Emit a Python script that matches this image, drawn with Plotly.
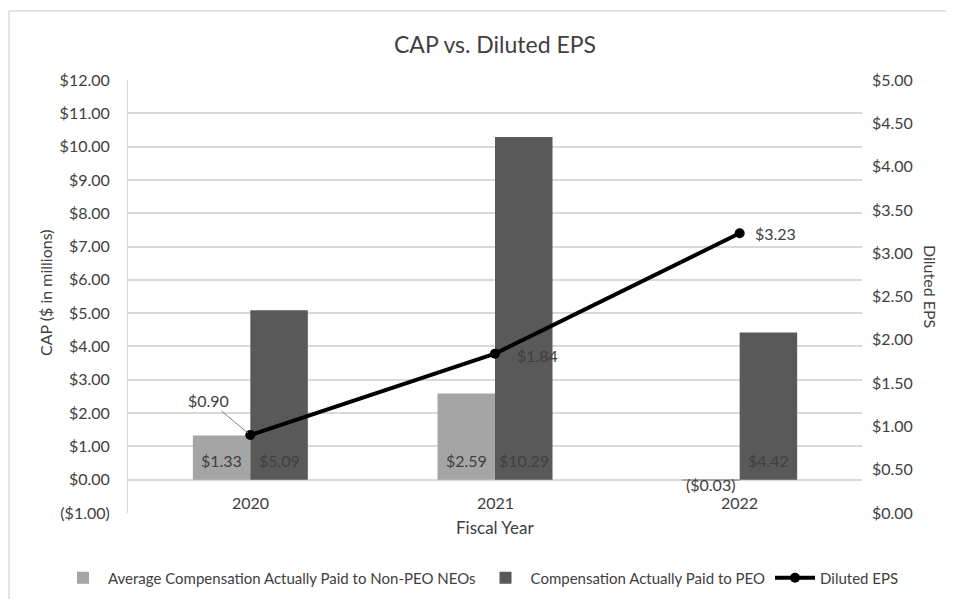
import plotly.graph_objects as go

years = ["2020", "2021", "2022"]
non_peo = [1.33, 2.59, -0.03]
peo = [5.09, 10.29, 4.42]
eps = [0.90, 1.84, 3.23]

left_ticks = list(range(-1, 13))
left_text = [("($%.2f)" % abs(v)) if v < 0 else ("$%.2f" % v) for v in left_ticks]
right_ticks = [i * 0.5 for i in range(11)]
right_text = ["$%.2f" % v for v in right_ticks]

def money(v):
    return ("($%.2f)" % abs(v)) if v < 0 else ("$%.2f" % v)

FONT = "Lato, Liberation Sans, sans-serif"
TXT = "#404040"

OFF = 8  # page body margin
W, H = 954 - OFF, 599 - OFF
SL, SR, ST, SB = 128, 862, 80, 513
L, R, T, B = SL - OFF, SR - OFF, ST - OFF, SB - OFF
pw, ph = R - L, B - T

def px(sx):
    return (sx - OFF - L) / pw

def py(sy):
    return (B - (sy - OFF)) / ph

BARGAP = 0.53
bar_w_px = pw / len(years) * (1 - BARGAP) / 2

fig = go.Figure()
fig.add_trace(go.Bar(
    x=years, y=non_peo, name="Average Compensation Actually Paid to Non-PEO NEOs",
    marker=dict(color="#A5A5A5", line=dict(width=0)),
))
fig.add_trace(go.Bar(
    x=years, y=peo, name="Compensation Actually Paid to PEO",
    marker=dict(color="#595959", line=dict(width=0)),
))
fig.add_trace(go.Scatter(
    x=years, y=eps, name="Diluted EPS", yaxis="y2",
    mode="lines+markers",
    line=dict(color="black", width=4),
    marker=dict(color="black", size=10),
    cliponaxis=False,
))

annotations = []
for series, shift in ((non_peo, -1), (peo, 1)):
    for i, v in enumerate(series):
        annotations.append(dict(
            x=i, y=(0 if v >= 0 else v), xref="x", yref="y", text=money(v), showarrow=False,
            xshift=shift * bar_w_px / 2, yanchor="middle", yshift=(19 if v >= 0 else -4),
            font=dict(color=TXT, size=16, family=FONT),
        ))
# EPS labels
annotations.append(dict(
    x=0, y=eps[0], xref="x", yref="y2", text=money(eps[0]),
    showarrow=True, arrowhead=0, arrowwidth=1, arrowcolor="#7f7f7f",
    ax=-42, ay=-35, font=dict(color=TXT, size=16, family=FONT), standoff=3,
))
for i, v in enumerate(eps):
    if i == 0:
        continue
    annotations.append(dict(
        x=i, y=v, xref="x", yref="y2", text=money(v), showarrow=False,
        xanchor="left", yanchor="middle", xshift=(20 if i == 1 else 13), yshift=(-2 if i == 1 else 0),
        font=dict(color=TXT, size=16, family=FONT),
    ))
for i, yr in enumerate(years):
    annotations.append(dict(
        x=i, y=0, xref="x", yref="y", text=yr, showarrow=False,
        yanchor="top", yshift=-11, font=dict(color=TXT, size=16, family=FONT),
    ))
annotations.append(dict(
    x=0.5, y=py(527), xref="paper", yref="paper", text="Fiscal Year",
    showarrow=False, yanchor="middle", font=dict(color=TXT, size=17, family=FONT),
))
annotations.append(dict(
    x=px(45), y=py(293), xref="paper", yref="paper", text="CAP ($ in millions)",
    showarrow=False, textangle=-90, xanchor="center", yanchor="middle",
    font=dict(color=TXT, size=16, family=FONT),
))
annotations.append(dict(
    x=px(931), y=py(287), xref="paper", yref="paper", text="Diluted EPS",
    showarrow=False, textangle=90, xanchor="center", yanchor="middle",
    font=dict(color=TXT, size=16, family=FONT),
))

BORDER = dict(color="#d9d9d9", width=1.5)
shapes = [
    dict(type="line", xref="paper", yref="paper", x0=px(9), x1=px(9), y0=py(11), y1=py(640),
         line=BORDER, layer="below"),
    dict(type="line", xref="paper", yref="paper", x0=px(9), x1=px(1000), y0=py(11), y1=py(11),
         line=BORDER, layer="below"),
]

fig.update_layout(
    width=W, height=H,
    margin=dict(l=L, r=W - R, t=T, b=H - B, autoexpand=False),
    paper_bgcolor="white", plot_bgcolor="white",
    font=dict(family=FONT, color=TXT, size=15),
    title=dict(text="CAP vs. Diluted EPS", xref="paper", x=0.5, xanchor="center",
               y=1 - (45 - OFF) / H, yanchor="middle", font=dict(size=23, color=TXT, family=FONT)),
    barmode="group", bargap=BARGAP, bargroupgap=0,
    showlegend=True,
    legend=dict(orientation="h", x=px(58), xanchor="left", y=py(578), yanchor="middle",
                font=dict(size=15, color=TXT, family=FONT), traceorder="normal",
                itemwidth=40),
    xaxis=dict(type="category", range=[-0.5, 2.5], showticklabels=False, showgrid=False,
               zeroline=False, showline=False, ticks=""),
    yaxis=dict(range=[-1, 12], tickvals=left_ticks, ticktext=left_text,
               showgrid=True, gridcolor="#d9d9d9", gridwidth=1.5, zeroline=False,
               showline=True, linecolor="#d9d9d9", linewidth=1,
               ticks="", ticklabelstandoff=14, tickfont=dict(size=16, color=TXT)),
    yaxis2=dict(range=[0, 5], tickvals=right_ticks, ticktext=right_text, overlaying="y", side="right",
                showgrid=False, zeroline=False, showline=False, ticks="", ticklabelstandoff=9,
                tickfont=dict(size=16, color=TXT)),
    annotations=annotations,
    shapes=shapes,
)

fig.write_html("out.html")
